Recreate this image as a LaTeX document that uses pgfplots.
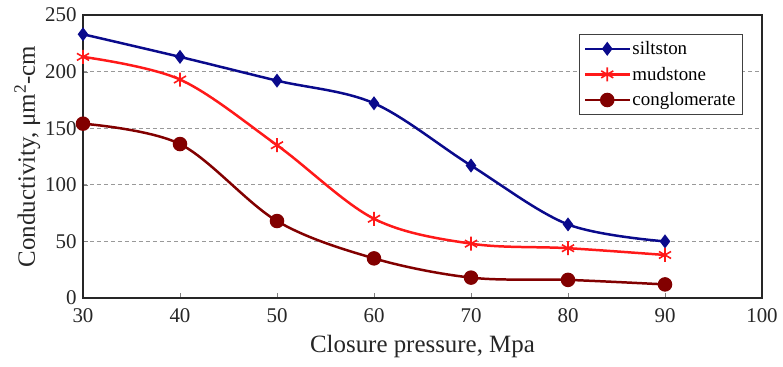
\documentclass[border=0pt]{standalone}
\usepackage{fontspec}
\setmainfont{Liberation Serif}
\usepackage{pgfplots}
\pgfplotsset{compat=1.18}
\definecolor{cnavy}{RGB}{10,10,140}
\definecolor{cred}{RGB}{255,25,25}
\definecolor{cdred}{RGB}{130,0,0}
\begin{document}
\begin{tikzpicture}
\begin{axis}[
  scale only axis, width=679bp, height=283bp,
  xmin=30, xmax=100, ymin=0, ymax=250,
  xtick={30,40,...,100}, ytick={0,50,...,250},
  xtick pos=bottom, ytick pos=left, tick align=inside,
  major tick length=5bp,
  axis line style={line width=1.3pt, black!85},
  ymajorgrids, grid style={dash pattern=on 4bp off 3bp, gray!80, line width=1pt},
  /pgf/number format/assume math mode=true,
  tick label style={font=\fontsize{21}{23}\selectfont, text=black!85},
  xticklabel style={yshift=-7bp},
  yticklabel style={xshift=-3bp},
  label style={font=\fontsize{25}{27}\selectfont, text=black!85},
  xlabel={Closure pressure, Mpa},
  ylabel={Conductivity, μm\textsuperscript{2}-cm},
  ylabel style={yshift=-2bp},
  xlabel style={yshift=-6bp},
  legend style={at={(rel axis cs:0.972,0.933)}, anchor=north east,
    font=\fontsize{19}{21}\selectfont, draw=black!75, line width=1pt,
    row sep=7bp, inner xsep=5bp, inner ysep=5bp},
  legend cell align=left,
  legend image code/.code={\draw[mark repeat=2,mark phase=2] plot coordinates {(0bp,0bp)(22bp,0bp)(44bp,0bp)};},
  legend image post style={line width=2.5pt},
  every axis plot/.append style={line width=2.5pt, smooth, tension=0.55},
]
\addplot[color=cnavy, mark=diamond*, mark size=5bp, mark options={solid, fill=cnavy}] coordinates {
(30,233) (40,213) (50,192) (60,172) (70,117) (80,65) (90,50)};
\addlegendentry{siltston}
\addplot[color=cred, mark=asterisk, mark size=7bp, mark options={solid, line width=1.6pt}] coordinates {
(30,213) (40,193) (50,135) (60,70) (70,48) (80,44) (90,38)};
\addlegendentry{mudstone}
\addplot[color=cdred, mark=*, mark size=6bp, mark options={solid, fill=cdred}] coordinates {
(30,154) (40,136) (50,68) (60,35) (70,18) (80,16) (90,12)};
\addlegendentry{conglomerate}
\end{axis}
\pgfresetboundingbox
\path[use as bounding box] (-83bp,-69bp) rectangle (700bp,298bp);
\end{tikzpicture}
\end{document}
